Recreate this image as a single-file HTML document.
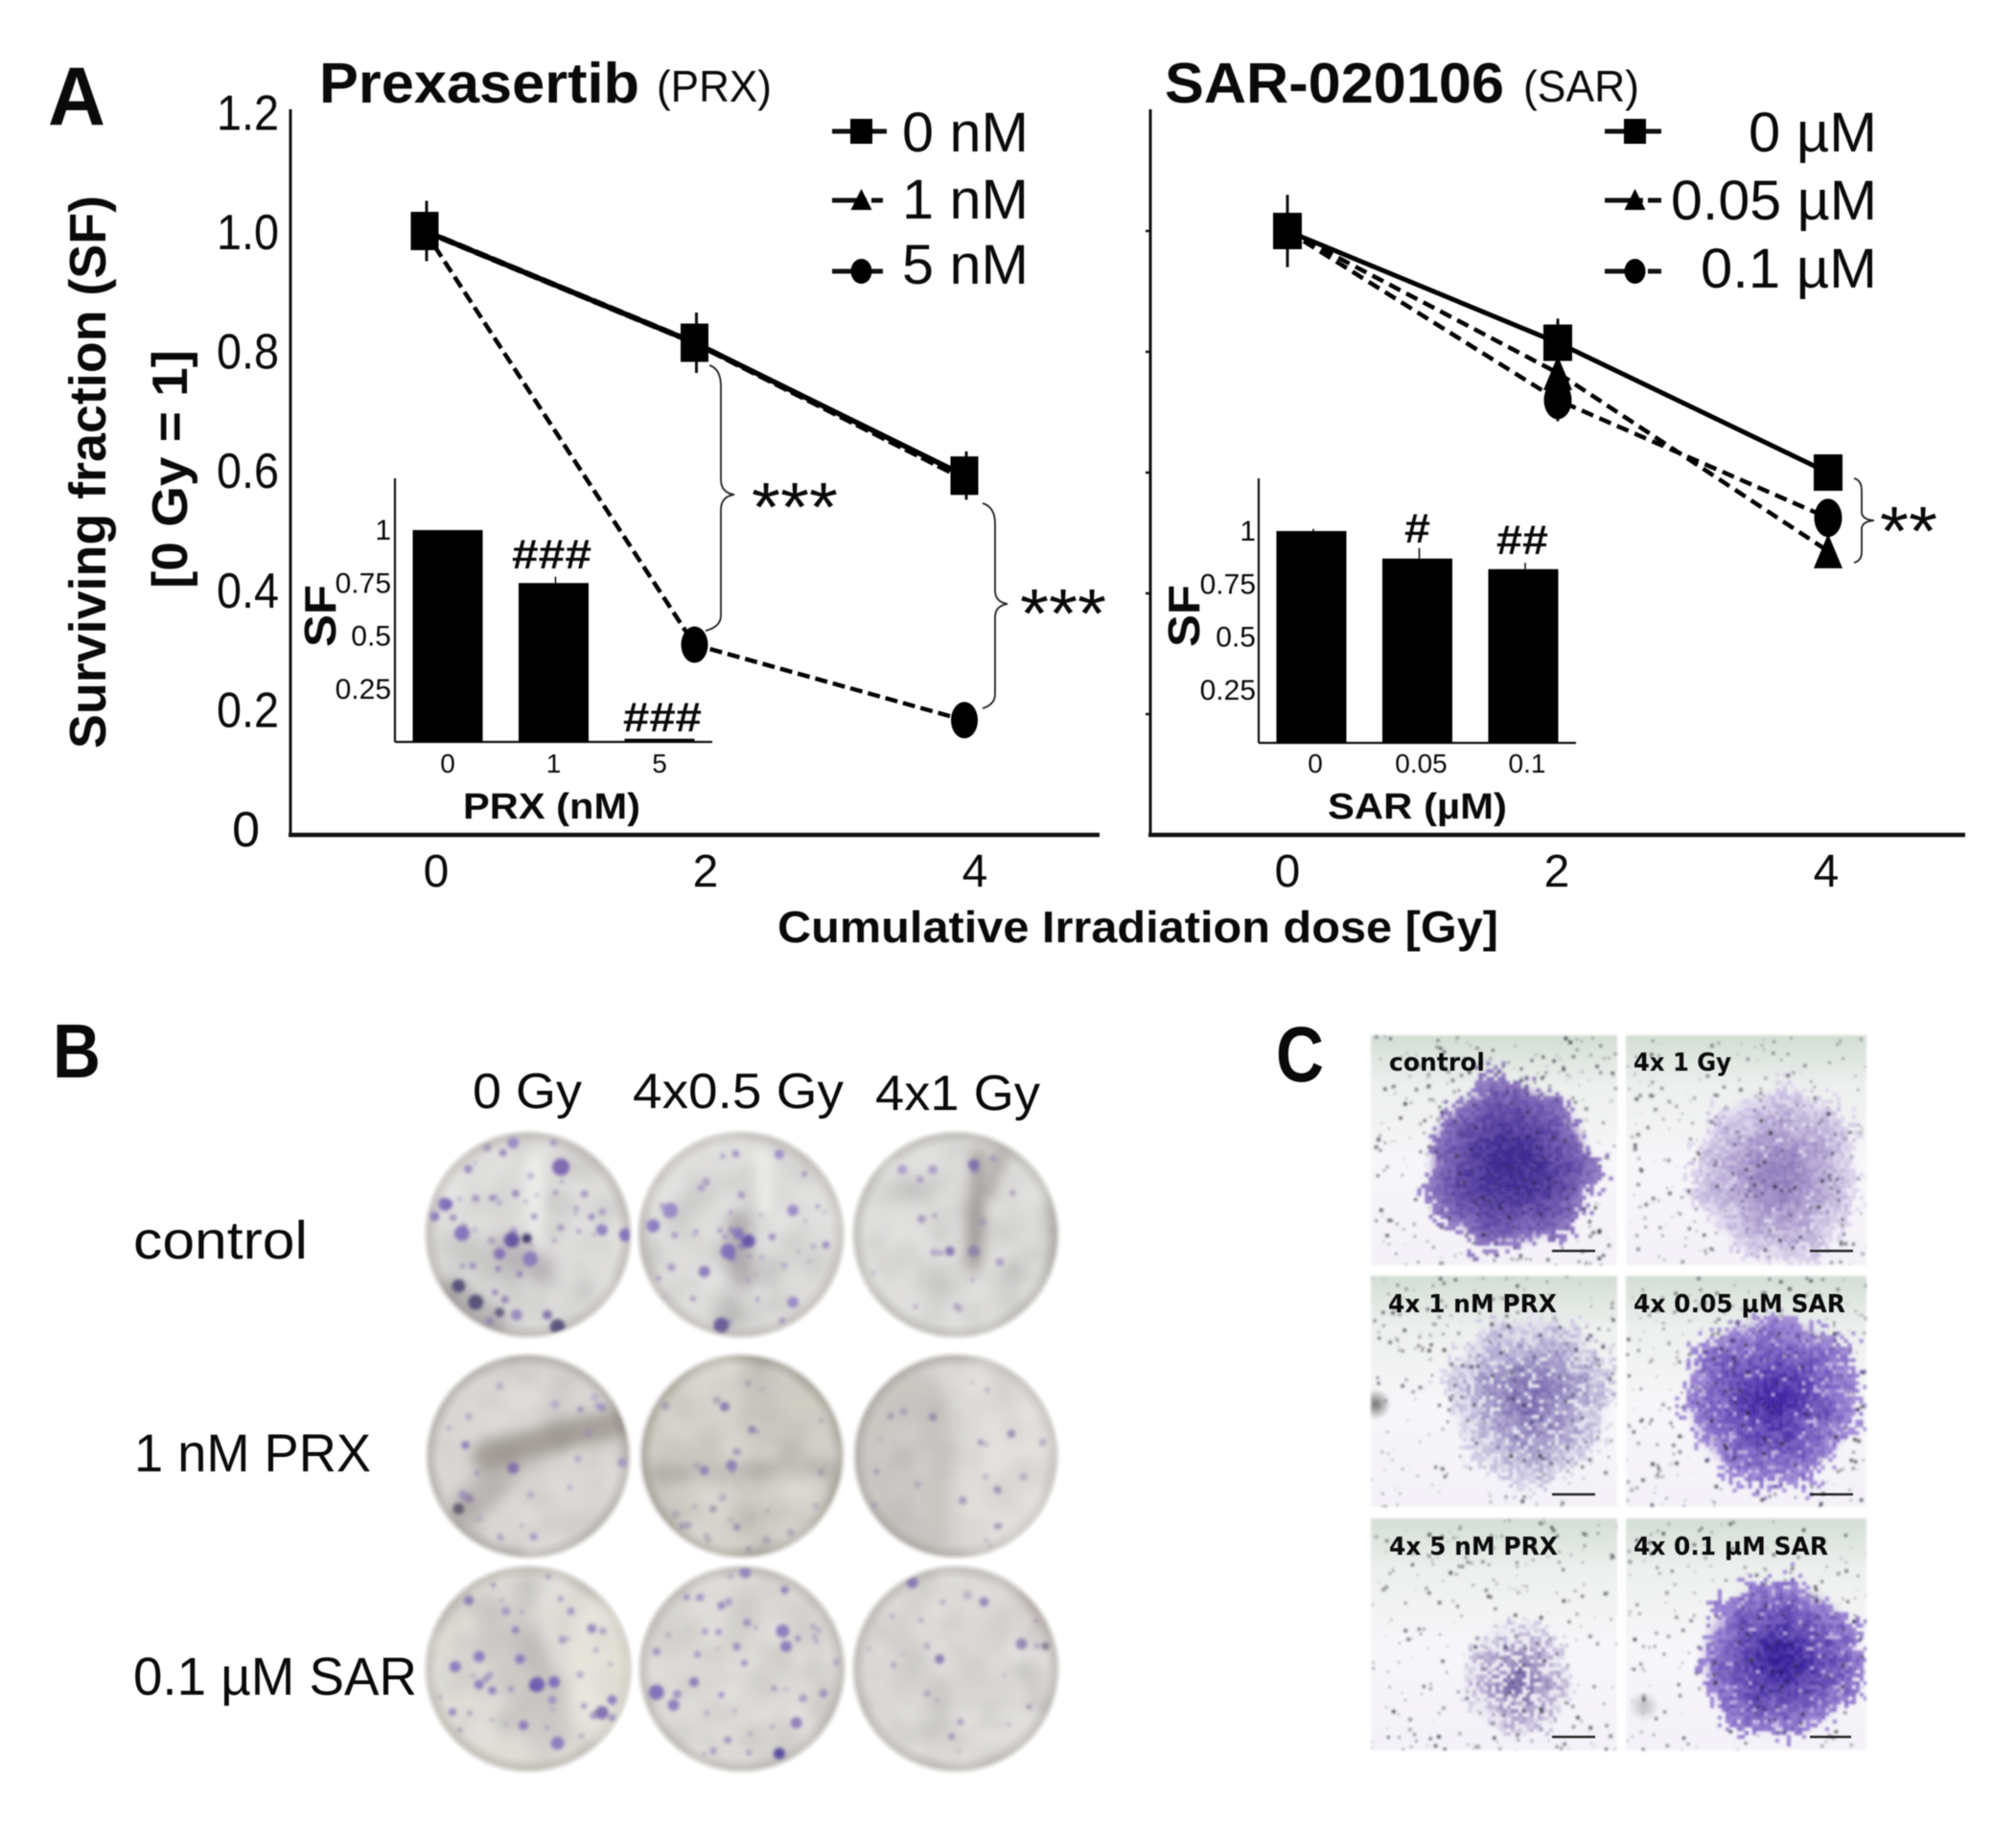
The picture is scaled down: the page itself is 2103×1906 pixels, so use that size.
<!DOCTYPE html>
<html lang="en">
<head>
<meta charset="utf-8">
<title>Surviving fraction figure</title>
<style>
html,body{margin:0;padding:0;background:#fff;}
#stage{position:relative;width:2103px;height:1906px;overflow:hidden;background:#fff;}
canvas{position:absolute;filter:blur(1.2px);}
svg{position:absolute;left:0;top:0;filter:blur(0.6px);}
text{font-family:"Liberation Sans",sans-serif;fill:#0a0a0a;}
.b{font-weight:700;}
.dj{font-family:"DejaVu Sans",sans-serif;font-weight:700;}
</style>
</head>
<body>
<div id="stage">
<canvas id="plates" width="720" height="720" style="left:430px;top:1160px;"></canvas>
<canvas id="micro" width="530" height="760" style="left:1425px;top:1075px;"></canvas>
<svg id="chart" xmlns="http://www.w3.org/2000/svg" width="2103" height="1906" viewBox="0 0 2103 1906">
  <text class="b" x="50" y="130" font-size="86" textLength="60" lengthAdjust="spacingAndGlyphs">A</text>
  <text class="b" x="333" y="107" font-size="59" textLength="334" lengthAdjust="spacingAndGlyphs">Prexasertib</text>
  <text x="685" y="106" font-size="46" textLength="120" lengthAdjust="spacingAndGlyphs">(PRX)</text>
  <text class="b" x="1215" y="107" font-size="59" textLength="354" lengthAdjust="spacingAndGlyphs">SAR-020106</text>
  <text x="1589" y="106" font-size="46" textLength="121" lengthAdjust="spacingAndGlyphs">(SAR)</text>

  <text class="b" transform="translate(110,781) rotate(-90)" font-size="54" textLength="577" lengthAdjust="spacingAndGlyphs">Surviving fraction (SF)</text>
  <text class="b" transform="translate(195,614) rotate(-90)" font-size="52" textLength="249" lengthAdjust="spacingAndGlyphs">[0 Gy = 1]</text>
  <text class="b" x="811" y="983" font-size="46" textLength="752" lengthAdjust="spacingAndGlyphs">Cumulative Irradiation dose [Gy]</text>

  <text x="941" y="158" font-size="58" textLength="132" lengthAdjust="spacingAndGlyphs">0 nM</text>
  <text x="941" y="228" font-size="58" textLength="132" lengthAdjust="spacingAndGlyphs">1 nM</text>
  <text x="941" y="296" font-size="58" textLength="132" lengthAdjust="spacingAndGlyphs">5 nM</text>
  <text x="1824" y="158" font-size="58" textLength="134" lengthAdjust="spacingAndGlyphs">0 µM</text>
  <text x="1743" y="229" font-size="58" textLength="215" lengthAdjust="spacingAndGlyphs">0.05 µM</text>
  <text x="1774" y="300" font-size="58" textLength="184" lengthAdjust="spacingAndGlyphs">0.1 µM</text>

  <text class="b" transform="translate(350,675) rotate(-90)" font-size="46" textLength="65" lengthAdjust="spacingAndGlyphs">SF</text>
  <text class="b" transform="translate(1251,675) rotate(-90)" font-size="46" textLength="65" lengthAdjust="spacingAndGlyphs">SF</text>
  <text class="b" x="483" y="854" font-size="38" textLength="185" lengthAdjust="spacingAndGlyphs">PRX (nM)</text>
  <text class="b" x="1385" y="854" font-size="38" textLength="187" lengthAdjust="spacingAndGlyphs">SAR (µM)</text>
  <text class="b" x="534" y="593" font-size="44" textLength="83" lengthAdjust="spacingAndGlyphs">###</text>
  <text class="b" x="650" y="763" font-size="44" textLength="82" lengthAdjust="spacingAndGlyphs">###</text>
  <text class="b" x="1465" y="566" font-size="44" textLength="27" lengthAdjust="spacingAndGlyphs">#</text>
  <text class="b" x="1561" y="578" font-size="44" textLength="54" lengthAdjust="spacingAndGlyphs">##</text>

  <path d="M740 381 Q752 385 752 403 L752 500 Q752 514 766 516 Q752 518 752 532 L752 642 Q752 654 736 658" fill="none" stroke="#222" stroke-width="1.8"/>
  <path d="M1025 525 Q1038 529 1038 546 L1038 616 Q1038 628 1051 630 Q1038 632 1038 644 L1038 724 Q1038 735 1025 739" fill="none" stroke="#222" stroke-width="1.8"/>
  <path d="M1934 499 Q1942 501 1942 512 L1942 534 Q1942 542 1955 543 Q1942 544 1942 552 L1942 576 Q1942 585 1934 587" fill="none" stroke="#222" stroke-width="1.8"/>
  <text x="784" y="554" font-size="72" textLength="90" lengthAdjust="spacingAndGlyphs">***</text>
  <text x="1064" y="665" font-size="72" textLength="90" lengthAdjust="spacingAndGlyphs">***</text>
  <text x="1961" y="579" font-size="72" textLength="60" lengthAdjust="spacingAndGlyphs">**</text>

  <text class="b" x="55" y="1124" font-size="80" textLength="50" lengthAdjust="spacingAndGlyphs">B</text>
  <text x="493" y="1156" font-size="52" textLength="114" lengthAdjust="spacingAndGlyphs">0 Gy</text>
  <text x="660" y="1156" font-size="52" textLength="220" lengthAdjust="spacingAndGlyphs">4x0.5 Gy</text>
  <text x="913" y="1158" font-size="52" textLength="172" lengthAdjust="spacingAndGlyphs">4x1 Gy</text>
  <text x="139" y="1313" font-size="56" textLength="182" lengthAdjust="spacingAndGlyphs">control</text>
  <text x="140" y="1535" font-size="56" textLength="247" lengthAdjust="spacingAndGlyphs">1 nM PRX</text>
  <text x="139" y="1768" font-size="56" textLength="296" lengthAdjust="spacingAndGlyphs">0.1 µM SAR</text>

  <text class="b" x="1331" y="1128" font-size="82" textLength="50" lengthAdjust="spacingAndGlyphs">C</text>
  <text class="dj" x="1449" y="1117" font-size="26" textLength="100" lengthAdjust="spacingAndGlyphs">control</text>
  <text class="dj" x="1704" y="1117" font-size="26" textLength="102" lengthAdjust="spacingAndGlyphs">4x 1 Gy</text>
  <text class="dj" x="1448" y="1369" font-size="26" textLength="176" lengthAdjust="spacingAndGlyphs">4x 1 nM PRX</text>
  <text class="dj" x="1704" y="1369" font-size="26" textLength="221" lengthAdjust="spacingAndGlyphs">4x 0.05 µM SAR</text>
  <text class="dj" x="1449" y="1622" font-size="26" textLength="176" lengthAdjust="spacingAndGlyphs">4x 5 nM PRX</text>
  <text class="dj" x="1704" y="1622" font-size="26" textLength="203" lengthAdjust="spacingAndGlyphs">4x 0.1 µM SAR</text>
  <g stroke="#222" stroke-width="2.5">
    <line x1="1619" y1="1305" x2="1664" y2="1305"/><line x1="1888" y1="1305" x2="1933" y2="1305"/>
    <line x1="1619" y1="1559" x2="1664" y2="1559"/><line x1="1888" y1="1559" x2="1933" y2="1559"/>
    <line x1="1619" y1="1812" x2="1664" y2="1812"/><line x1="1888" y1="1812" x2="1931" y2="1812"/>
  </g>
  <g id="marks"></g>
</svg>
</div>
<script>
// ===== Chart data =====
const doses = [0, 2, 4];
const yTickValues = [0, 0.2, 0.4, 0.6, 0.8, 1.0, 1.2];
const yTickLabels = ['0', '0.2', '0.4', '0.6', '0.8', '1.0', '1.2'];
const prx0 = [1.0, 0.815, 0.595];
const prx1 = [1.0, 0.815, 0.59];
const prx5 = [1.0, 0.315, 0.19];
const prx0Err = [0.05, 0.05, 0.04];
const sar0 = [1.0, 0.815, 0.60];
const sar005 = [1.0, 0.765, 0.47];
const sar01 = [1.0, 0.72, 0.525];
const sar0Err = [0.06, 0.04, 0.0];
const sar01Err = [0.0, 0.035, 0.0];
const insetTickValues = [0.25, 0.5, 0.75, 1];
const insetTickLabels = ['0.25', '0.5', '0.75', '1'];
const prxCategories = ['0', '1', '5'];
const prxSF = [1.0, 0.75, 0.015];
const prxSFErr = [0, 0.03, 0];
const sarCategories = ['0', '0.05', '0.1'];
const sarSF = [1.0, 0.87, 0.82];
const sarSFErr = [0.01, 0.05, 0.03];

// ===== Axis functions =====
function yMain(v) { return 871 - 630 * v; }
function yLabel(v) { return 865 - 623 * v; }
function xPrx(d) { return 443 + 140.75 * d; }
function xSar(d) { return 1343 + 141 * d; }
function xPrxLabel(d) { return 455 + 140.5 * d; }
function xSarLabel(d) { return 1343 + 140.5 * d; }
function insetPrxY(v) { return 774 - 221 * v; }
function insetSarY(v) { return 775 - 221 * v; }
function insetPrxX(i) { return 467 + 110.5 * i; }
function insetSarX(i) { return 1368 + 110.5 * i; }

const NS = 'http://www.w3.org/2000/svg';
const marks = document.getElementById('marks');
function mk(tag, attrs) {
  const el = document.createElementNS(NS, tag);
  for (const k in attrs) el.setAttribute(k, attrs[k]);
  marks.appendChild(el);
  return el;
}
function axisLine(x1, y1, x2, y2, w) {
  return mk('line', {x1: x1, y1: y1, x2: x2, y2: y2, stroke: '#111', 'stroke-width': w});
}
function seriesLine(xf, values, width, dash) {
  const pts = values.map(function (v, i) { return xf(doses[i]) + ',' + yMain(v); }).join(' ');
  const attrs = {points: pts, fill: 'none', stroke: '#000', 'stroke-width': width};
  if (dash) attrs['stroke-dasharray'] = dash;
  return mk('polyline', attrs);
}
function squareAt(x, y, w, h) {
  return mk('rect', {x: x - w / 2, y: y - h / 2, width: w, height: h, fill: '#000'});
}
function circleAt(x, y, rx, ry) {
  return mk('ellipse', {cx: x, cy: y, rx: rx, ry: ry, fill: '#000'});
}
function triangleAt(x, y, w, h) {
  return mk('polygon', {points: (x - w / 2) + ',' + (y + h / 2) + ' ' + (x + w / 2) + ',' + (y + h / 2) + ' ' + x + ',' + (y - h / 2), fill: '#000'});
}
function errorBar(x, v, e, yf) {
  return axisLine(x, yf(v + e), x, yf(v - e), 3);
}
function label(x, y, txt, size, anchor) {
  const t = mk('text', {x: x, y: y, 'font-size': size, 'text-anchor': anchor});
  t.textContent = txt;
  return t;
}

// Main axes
let el;
el = axisLine(303, 114, 303, 872, 3);


el = axisLine(301, 871, 1147, 871, 4.5);


el = axisLine(1200, 114, 1200, 872, 3);


el = axisLine(1198, 871, 2050, 871, 4.5);



yTickValues.forEach(function (v, i) {
  const endX = v === 0 ? 271 : 291;
  const t = label(endX, yLabel(v) + 18, yTickLabels[i], 52, 'end');
  if (v !== 0) {
    t.setAttribute('textLength', '65');
    t.setAttribute('lengthAdjust', 'spacingAndGlyphs');
  }
  
  
  if (v > 0 && v < 1.2) {
    const tk = axisLine(1195, yMain(v), 1200, yMain(v), 2.5);
    
    
  }
});
doses.forEach(function (d) {
  let t = label(xPrxLabel(d), 925, String(d), 48, 'middle');
  
  
  t = label(xSarLabel(d), 925, String(d), 48, 'middle');
  
  
});

// PRX series
el = seriesLine(xPrx, prx5, 4.5, '13 6');


el = seriesLine(xPrx, prx1, 6, '14 5');


el = seriesLine(xPrx, prx0, 5.5, null);


doses.forEach(function (d, i) {
  const x = xPrx(d);
  let m = errorBar(x + 2, prx0[i], prx0Err[i], yMain);
  
  
  m = triangleAt(x, yMain(prx1[i]), 28, 34);
  
  
  m = squareAt(x, yMain(prx0[i]), 29, 40);
  
  
  if (i > 0) {
    m = circleAt(x, yMain(prx5[i]), 14, 19);
    
    
  }
});

// SAR series
el = seriesLine(xSar, sar005, 4.5, '13 7');


el = seriesLine(xSar, sar01, 4.5, '13 7');


el = seriesLine(xSar, sar0, 5, null);


doses.forEach(function (d, i) {
  const x = xSar(d);
  let m;
  if (sar0Err[i] > 0) {
    m = errorBar(x, sar0[i], sar0Err[i], yMain);
    
    
  }
  if (sar01Err[i] > 0) {
    m = errorBar(x, sar01[i], sar01Err[i], yMain);
    
    
  }
  if (i > 0) {
    m = triangleAt(x, yMain(sar005[i]), 30, 36);
    
    
    m = circleAt(x, yMain(sar01[i]), 14.5, 20);
    
    
  }
  m = squareAt(x, yMain(sar0[i]), 30, 38);
  
  
});

// Legend keys
const legendRows = [137, 209, 283];
function legendKey(x1, x2, y, kind, dash) {
  const ln = axisLine(x1, y, x2, y, 5);
  if (dash) ln.setAttribute('stroke-dasharray', dash);
  
  
  const cx = (x1 + x2) / 2 + 2;
  let m;
  if (kind === 0) m = squareAt(cx, y, 23, 26);
  if (kind === 1) m = triangleAt(cx, y - 1, 22, 22);
  if (kind === 2) m = circleAt(cx, y, 11, 13);
  
  
}
legendRows.forEach(function (y, i) {
  legendKey(868, 925, y, i, i === 0 ? null : '36 5 12');
  legendKey(1674, 1733, y, i, i === 0 ? null : '40 5 14');
});

// Insets
function drawInset(cats, vals, errs, tickEndX, axisX, axisEnd, xf, yf, barWidth, prefix) {
  const a = axisLine(axisX, 499, axisX, yf(0), 2.2);
  
  
  const b = axisLine(axisX, yf(0), axisEnd, yf(0), 2.2);
  
  
  insetTickValues.forEach(function (v, i) {
    const t = label(tickEndX, yf(v) + 10, insetTickLabels[i], 30, 'end');
    
    
  });
  cats.forEach(function (c, i) {
    const cx = xf(i);
    if (errs[i] > 0) {
      const e = axisLine(cx + 2, yf(vals[i] + errs[i]), cx + 2, yf(vals[i]), 1.6);
      
      
    }
    const r = mk('rect', {x: cx - barWidth / 2, y: yf(vals[i]), width: barWidth, height: yf(0) - yf(vals[i]), fill: '#000'});
    
    
    const lb = label(cx + (prefix === 'inset-sar' ? 4 : 0), 806, c, 28, 'middle');
    
    
  });
}
drawInset(prxCategories, prxSF, prxSFErr, 408, 412, 743, insetPrxX, insetPrxY, 73, 'inset-prx');
drawInset(sarCategories, sarSF, sarSFErr, 1310, 1313, 1644, insetSarX, insetSarY, 73, 'inset-sar');

// ===== Photographic texture (non-data imagery) =====
let seed = 12345;
function rnd() {
  seed = (seed * 1664525 + 1013904223) >>> 0;
  return seed / 4294967296;
}

// Plates: coordinates in canvas space (origin 430,1160)
const P = document.getElementById('plates').getContext('2d');
function zx(v) { return 30 + v / 1.405 - 430; }
function zy(v) { return 1050 + v / 1.88 - 1160; }
const plates = [
  {c:[551,1288], r:107, base:['#dedddb','#c4c1be'], n:44, col:'#7a66b0',
   streak:[[740,300,745,490,16,'rgba(245,245,243,.8)'],[700,470,750,510,30,'rgba(140,130,140,.4)'],[620,560,680,620,30,'rgba(120,115,120,.4)']],
   big:[[708,458,8,'#5a48a0'],[730,455,5,'#2a2058'],[690,485,6,'#7a66b4'],[735,495,8,'#8474b8'],[635,445,8,'#7a66b8'],[610,388,7,'#7a66b8'],[780,315,9,'#7258ac'],[710,268,6,'#9484c4'],[630,548,7,'#4a4270'],[655,580,8,'#4a4270'],[690,600,5,'#58507a'],[775,628,8,'#4a4270'],[760,605,5,'#7a68a8'],[875,448,7,'#7a66b8'],[840,438,6,'#8474bc'],[715,605,6,'#9080bc'],[595,412,5,'#8474bc']]},
  {c:[773,1288], r:107, base:['#dedddb','#c8c5c2'], n:40, col:'#8472b8',
   streak:[[1040,430,1045,530,26,'rgba(130,125,130,.45)'],[1075,290,1080,400,16,'rgba(245,245,243,.8)']],
   big:[[1055,460,7,'#5a48a8'],[1025,480,8,'#7a66b8'],[1040,445,6,'#8070bc'],[1015,625,8,'#5c4e90'],[915,430,7,'#8474c0'],[940,400,8,'#9080c4'],[990,520,6,'#8070b8'],[1120,400,6,'#9080c4'],[1120,580,6,'#9080c4'],[1100,290,5,'#9484c6']]},
  {c:[997,1288], r:107, base:['#dfdedc','#c4c2be'], n:16, col:'#9080b6',
   streak:[[1392,290,1385,500,14,'rgba(120,110,105,.6)'],[1425,290,1405,370,11,'rgba(120,110,105,.55)'],[1500,400,1510,500,24,'rgba(150,145,140,.35)']],
   big:[[1385,310,6,'#7a68ac'],[1350,480,5,'#7a68a8'],[1385,480,6,'#8a7ca8'],[1280,320,5,'#a498c8'],[1325,320,5,'#a498c8']]},
  {c:[551,1519], r:106, base:['#d9d6d3','#bab7b3'], n:18, col:'#9484be',
   streak:[[670,880,870,815,30,'rgba(125,118,108,.55)'],[640,990,700,900,36,'rgba(140,132,128,.4)']],
   big:[[710,905,6,'#7a68ac'],[640,860,4,'#8070b4'],[630,985,6,'#5c5268'],[645,965,5,'#9080ac'],[740,1040,4,'#a092c4'],[870,895,5,'#a092c4']]},
  {c:[774,1519], r:106, base:['#cfccc4','#b0aca2'], n:26, col:'#8f7ea6',
   streak:[[920,920,1180,905,16,'rgba(130,124,122,.35)'],[1005,720,1010,1040,50,'rgba(235,232,226,.3)'],[1120,950,1120,1050,60,'rgba(228,226,222,.35)']],
   big:[[1020,785,5,'#8070aa'],[1030,900,6,'#8a7cb4'],[990,910,5,'#8a7cb4'],[1060,830,4,'#8a7cac']]},
  {c:[997,1519], r:106, base:['#d8d6d2','#b8b5b0'], n:18, col:'#9486ac',
   streak:[[1280,800,1280,1020,100,'rgba(170,165,160,.3)'],[1440,760,1440,1020,110,'rgba(238,236,232,.4)']],
   big:[[1325,805,4,'#9080ac'],[1440,838,4,'#9080ac'],[1395,855,3,'#9486b0'],[1420,948,4,'#9486b0']]},
  {c:[551,1741], r:107, base:['#dedcd6','#c5c2ba'], n:34, col:'#7a66b6',
   streak:[[700,1230,760,1400,60,'rgba(170,165,170,.3)'],[840,1240,840,1380,70,'rgba(240,238,225,.45)']],
   big:[[745,1330,8,'#6650b0'],[770,1325,6,'#7662b8'],[660,1275,6,'#8470bc'],[720,1280,5,'#8470bc'],[625,1295,6,'#8470bc'],[660,1330,5,'#8470bc'],[840,1385,7,'#7662ac'],[855,1360,5,'#8470bc'],[775,1445,7,'#8470bc'],[725,1410,5,'#8470bc'],[645,1165,5,'#8474b4'],[825,1220,5,'#9080bc']]},
  {c:[774,1741], r:107, base:['#dcdad6','#c2bfba'], n:36, col:'#7e6cb4',
   streak:[],
   big:[[920,1345,8,'#7662b6'],[945,1370,6,'#8070b8'],[1100,1465,6,'#463698'],[1105,1225,7,'#8070b8'],[1110,1255,6,'#8070b8'],[1050,1110,6,'#8c7cbc'],[975,1325,5,'#8470b4'],[1125,1405,6,'#8470b4'],[1015,1175,4,'#8c7cbc']]},
  {c:[997,1741], r:107, base:['#dcdad7','#c2bfbb'], n:18, col:'#9080ae',
   streak:[[1240,1390,1500,1392,5,'rgba(245,245,243,.6)'],[1470,1160,1490,1210,18,'rgba(165,135,120,.25)']],
   big:[[1335,1280,5,'#8070ac'],[1455,1250,6,'#8a7cae'],[1490,1255,4,'#787088'],[1400,1168,5,'#8c7cb4'],[1295,1130,6,'#7e6eb4']]}
];
plates.forEach(function (p) {
  const cx = p.c[0] - 430, cy = p.c[1] - 1160, r = p.r;
  P.save();
  P.beginPath();
  P.arc(cx, cy, r, 0, Math.PI * 2);
  P.clip();
  const g = P.createRadialGradient(cx, cy, r * 0.1, cx, cy, r);
  g.addColorStop(0, p.base[0]);
  g.addColorStop(0.86, p.base[0]);
  g.addColorStop(0.97, p.base[1]);
  g.addColorStop(1, '#dedcd8');
  P.fillStyle = g;
  P.fillRect(cx - r, cy - r, 2 * r, 2 * r);
  P.filter = 'blur(6px)';
  for (let i = 0; i < 90; i++) {
    const a = rnd() * 6.283, d = Math.sqrt(rnd()) * r;
    P.fillStyle = rnd() > 0.5 ? 'rgba(120,115,115,.07)' : 'rgba(255,255,255,.10)';
    P.beginPath();
    P.arc(cx + d * Math.cos(a), cy + d * Math.sin(a), 6 + rnd() * 12, 0, 6.283);
    P.fill();
  }
  P.filter = 'blur(7px)';
  P.lineCap = 'round';
  p.streak.forEach(function (s) {
    P.strokeStyle = s[5];
    P.lineWidth = s[4];
    P.beginPath();
    P.moveTo(zx(s[0]), zy(s[1]));
    P.lineTo(zx(s[2]), zy(s[3]));
    P.stroke();
  });
  P.filter = 'blur(1.5px)';
  for (let i = 0; i < p.n; i++) {
    const a = rnd() * 6.283, d = Math.sqrt(rnd()) * r * 0.95;
    P.globalAlpha = 0.4 + rnd() * 0.35;
    P.fillStyle = p.col;
    P.beginPath();
    P.arc(cx + d * Math.cos(a), cy + d * Math.sin(a), 1.5 + rnd() * 3, 0, 6.283);
    P.fill();
  }
  P.globalAlpha = 0.85;
  p.big.forEach(function (b) {
    P.fillStyle = b[3];
    P.beginPath();
    P.arc(zx(b[0]), zy(b[1]), b[2], 0, 6.283);
    P.fill();
  });
  P.globalAlpha = 1;
  P.filter = 'none';
  P.restore();
  P.strokeStyle = 'rgba(222,220,216,.9)';
  P.lineWidth = 3;
  P.beginPath();
  P.arc(cx, cy, r, 0, 6.283);
  P.stroke();
});

// Micrographs: coordinates in canvas space (origin 1425,1075)
const M = document.getElementById('micro').getContext('2d');
function hex(c) { return [parseInt(c.substr(1, 2), 16), parseInt(c.substr(3, 2), 16), parseInt(c.substr(5, 2), 16)]; }
const tiles = [
  {x:1430,y:1080,w:257,h:240,cx:1574,cy:1215,rx:86,ry:86,a:'#35208c',b:'#8a72c0',den:.96,pw:1.5,spk:340,soft:'rgba(130,110,185,.8)'},
  {x:1696,y:1080,w:251,h:240,cx:1853,cy:1224,rx:84,ry:90,a:'#8c78ba',b:'#ddd5ec',den:.85,pw:1.2,spk:260,soft:'rgba(215,206,236,.7)'},
  {x:1430,y:1331,w:257,h:241,cx:1595,cy:1458,rx:84,ry:88,a:'#7a6cb0',b:'#dcd8ea',den:.72,pw:1.1,spk:260,soft:'rgba(214,210,232,.5)'},
  {x:1696,y:1331,w:251,h:241,cx:1848,cy:1459,rx:90,ry:88,a:'#3a1ea0',b:'#a08ad6',den:.82,pw:1.1,spk:320,soft:'rgba(165,145,215,.7)'},
  {x:1430,y:1584,w:257,h:242,cx:1582,cy:1750,rx:56,ry:60,a:'#7a6aa8',b:'#ddd8ea',den:.5,pw:1.1,spk:260,soft:'rgba(215,208,232,.3)'},
  {x:1696,y:1584,w:251,h:242,cx:1857,cy:1730,rx:84,ry:80,a:'#38209a',b:'#9c86d4',den:.85,pw:1.1,spk:240,soft:'rgba(160,140,212,.7)'}
];
tiles.forEach(function (t) {
  const x0 = t.x - 1425, y0 = t.y - 1075;
  const g = M.createLinearGradient(0, y0, 0, y0 + t.h);
  g.addColorStop(0, '#d4ded5');
  g.addColorStop(0.22, '#edf0ee');
  g.addColorStop(0.55, '#f7f6f9');
  g.addColorStop(1, '#f4f2f8');
  M.fillStyle = g;
  M.fillRect(x0, y0, t.w, t.h);
  const ca = hex(t.a), cb = hex(t.b);
  const step = 4;
  const phases = [rnd() * 6.28, rnd() * 6.28, rnd() * 6.28];
  M.save();
  M.beginPath();
  M.rect(x0, y0, t.w, t.h);
  M.clip();
  M.fillStyle = t.soft;
  M.filter = 'blur(5px)';
  M.beginPath();
  M.ellipse(t.cx - 1425, t.cy - 1075, t.rx * 0.92, t.ry * 0.92, 0, 0, 6.283);
  M.fill();
  M.filter = 'none';
  for (let px = t.cx - t.rx * 1.25; px < t.cx + t.rx * 1.25; px += step) {
    for (let py = t.cy - t.ry * 1.25; py < t.cy + t.ry * 1.25; py += step) {
      const dx = (px - t.cx) / t.rx, dy = (py - t.cy) / t.ry;
      const ang = Math.atan2(dy, dx);
      const lim = 1 + 0.06 * Math.sin(3 * ang + phases[0]) + 0.05 * Math.sin(7 * ang + phases[1]) + 0.03 * Math.sin(13 * ang + phases[2]);
      const d = Math.sqrt(dx * dx + dy * dy) / lim + (rnd() - 0.5) * 0.12;
      if (d > 1.15) continue;
      if (d > 0.95 && rnd() > (1.15 - d) * 3) continue;
      if (rnd() > t.den + (1 - d) * 0.2) continue;
      const m = Math.min(1, Math.max(0, Math.pow(Math.max(d, 0), t.pw) + (rnd() - 0.5) * 0.45));
      const c = [0, 1, 2].map(function (k) { return Math.round(ca[k] + (cb[k] - ca[k]) * m); });
      M.fillStyle = 'rgb(' + c.join(',') + ')';
      M.fillRect(px - 1425, py - 1075, step, step);
    }
  }
  for (let i = 0; i < t.spk; i++) {
    const sx = x0 + rnd() * t.w, sy = y0 + rnd() * t.h;
    M.fillStyle = 'rgba(30,30,40,' + (0.3 + rnd() * 0.6) + ')';
    const s = 1 + rnd() * 2.6;
    M.fillRect(sx, sy, s, s);
  }
  M.restore();
});
(function () {
  // faint dark smudges near tile edges
  const g1 = M.createRadialGradient(10, 390, 1, 10, 390, 16);
  g1.addColorStop(0, 'rgba(70,70,70,.7)');
  g1.addColorStop(1, 'rgba(70,70,70,0)');
  M.fillStyle = g1;
  M.fillRect(5, 370, 24, 40);
  const g2 = M.createRadialGradient(290, 705, 1, 290, 705, 16);
  g2.addColorStop(0, 'rgba(120,120,120,.4)');
  g2.addColorStop(1, 'rgba(120,120,120,0)');
  M.fillStyle = g2;
  M.fillRect(272, 688, 36, 36);
})();
</script>
</body>
</html>
